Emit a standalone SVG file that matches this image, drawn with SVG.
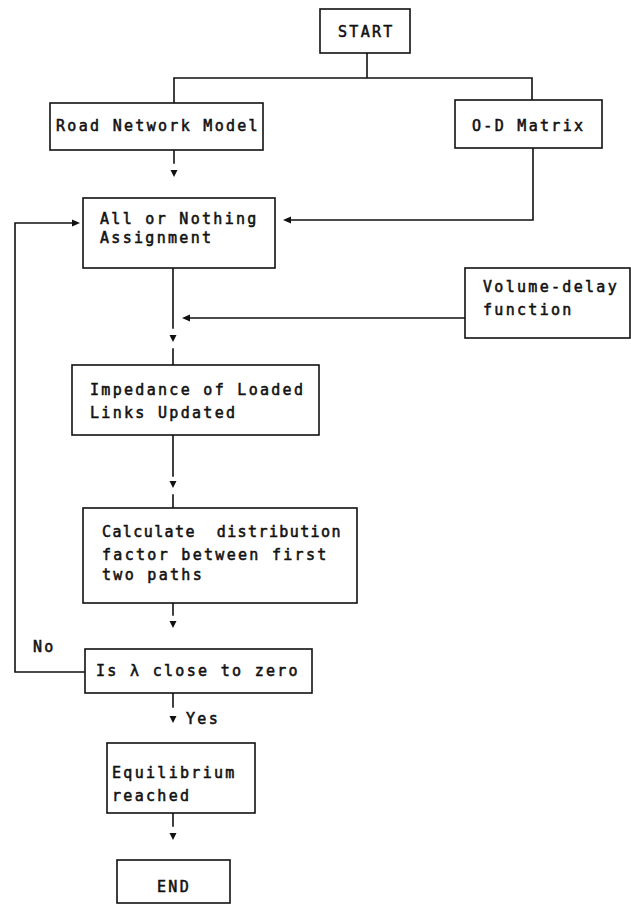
<svg xmlns="http://www.w3.org/2000/svg" width="631" height="909" viewBox="0 0 631 909">
  <style>
    .box { fill: #ffffff; stroke: #111111; stroke-width: 1.6; }
    .ln { fill: none; stroke: #111111; stroke-width: 1.6; stroke-linecap: square; }
    .ah { fill: #111111; stroke: none; }
    text { font-family: "DejaVu Sans Mono", "Liberation Mono", monospace; font-size: 15px; letter-spacing: 2.3px; fill: #111111; stroke: #111111; stroke-width: 0.55; white-space: pre; }
    .tight { letter-spacing: 1.4px; }
  </style>
  <defs>
    <polygon id="down" points="-3.5,0 3.5,0 0,7"/>
    <polygon id="left" points="0,0 8,-3.5 8,3.5"/>
    <polygon id="right" points="0,0 -8,-3.5 -8,3.5"/>
  </defs>
  <rect width="631" height="909" fill="#ffffff"/>

  <g id="connectors">
    <!-- START fan-out -->
    <path class="ln" d="M367,53 V78 M174,103 V78 H532 V100"/>
    <!-- Road Network Model to All or Nothing -->
    <path class="ln" d="M174,150 V163"/>
    <use href="#down" class="ah" x="174" y="170"/>
    <!-- O-D Matrix feed -->
    <path class="ln" d="M533,148 V220 H291"/>
    <use href="#left" class="ah" x="283" y="220"/>
    <!-- All or Nothing to Impedance -->
    <path class="ln" d="M173,268 V328 M173,349 V365"/>
    <use href="#down" class="ah" x="173" y="335"/>
    <!-- Volume-delay function feed -->
    <path class="ln" d="M465,318 H190"/>
    <use href="#left" class="ah" x="182" y="318"/>
    <!-- Impedance to Calculate -->
    <path class="ln" d="M173,435 V476 M173,495 V508"/>
    <use href="#down" class="ah" x="173" y="481"/>
    <!-- Calculate to decision -->
    <path class="ln" d="M173,603 V615"/>
    <use href="#down" class="ah" x="173" y="621"/>
    <!-- No loop back -->
    <path class="ln" d="M85,672 H15 V223 H72"/>
    <use href="#right" class="ah" x="80" y="223"/>
    <text x="33" y="652">No</text>
    <!-- Yes -->
    <path class="ln" d="M173,693 V707"/>
    <use href="#down" class="ah" x="173" y="716"/>
    <text x="186" y="724">Yes</text>
    <!-- Equilibrium to END -->
    <path class="ln" d="M173,813 V826"/>
    <use href="#down" class="ah" x="173" y="833"/>
  </g>

  <g id="start">
    <rect class="box" x="320" y="9" width="90" height="44"/>
    <text x="338" y="37">START</text>
  </g>

  <g id="road-network-model">
    <rect class="box" x="50" y="103" width="213" height="47"/>
    <text x="56" y="131">Road Network Model</text>
  </g>

  <g id="od-matrix">
    <rect class="box" x="455" y="100" width="147" height="48"/>
    <text x="472" y="131">O-D Matrix</text>
  </g>

  <g id="all-or-nothing">
    <rect class="box" x="83" y="198" width="192" height="70"/>
    <text x="100" y="224">All or Nothing</text>
    <text x="100" y="243">Assignment</text>
  </g>

  <g id="volume-delay">
    <rect class="box" x="465" y="268" width="165" height="70"/>
    <text x="483" y="292">Volume-delay</text>
    <text x="483" y="315">function</text>
  </g>

  <g id="impedance">
    <rect class="box" x="72" y="365" width="247" height="70"/>
    <text x="90" y="395">Impedance of Loaded</text>
    <text x="90" y="418">Links Updated</text>
  </g>

  <g id="calculate">
    <rect class="box" x="83" y="508" width="274" height="95"/>
    <text class="tight" x="102" y="537" xml:space="preserve">Calculate  distribution</text>
    <text x="102" y="560">factor between first</text>
    <text x="102" y="580">two paths</text>
  </g>

  <g id="is-lambda-close">
    <rect class="box" x="85" y="649" width="227" height="44"/>
    <text x="96" y="676">Is λ close to zero</text>
  </g>

  <g id="equilibrium">
    <rect class="box" x="107" y="743" width="148" height="70"/>
    <text x="112" y="778">Equilibrium</text>
    <text x="112" y="801">reached</text>
  </g>

  <g id="end">
    <rect class="box" x="117" y="860" width="113" height="43"/>
    <text x="157" y="892">END</text>
  </g>
</svg>
